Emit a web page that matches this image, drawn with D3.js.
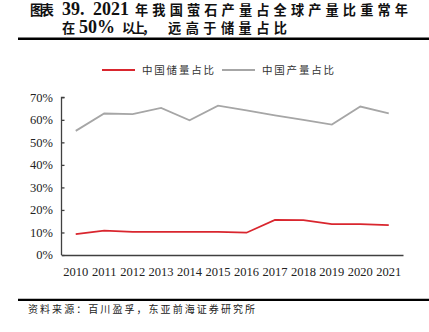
<!DOCTYPE html>
<html>
<head>
<meta charset="utf-8">
<script src="https://cdn.jsdelivr.net/npm/d3@7/dist/d3.min.js"></script>
<style>
  html, body { margin: 0; padding: 0; background: #fff; }
  svg { display: block; }
</style>
</head>
<body>
<svg id="chart" width="429" height="332"></svg>
<script>
// Fluorite: China's share of world reserves and of world production
const years = ["2010","2011","2012","2013","2014","2015","2016","2017","2018","2019","2020","2021"];
const reserveShare = [9.3, 10.8, 10.3, 10.3, 10.3, 10.3, 9.9, 15.6, 15.5, 13.7, 13.7, 13.3];
const productionShare = [55.1, 62.8, 62.5, 65.3, 59.8, 66.3, 64.2, 62.0, 60.0, 57.9, 65.9, 62.9];
const yTicks = [0, 10, 20, 30, 40, 50, 60, 70];
const seriesNames = ["中国储量占比", "中国产量占比"];
const seriesColors = ["#d9262e", "#a6a6a6"];

const svg = d3.select("#chart");
const serif = "'Liberation Serif', 'Times New Roman', serif";
const cjkFont = "'Noto Sans CJK SC', serif";

// Title: CJK runs are spread to their own width; Latin runs are set larger in serif
const titleRuns = [
  [{ t: "图表", x: 30, w: 24 }, { t: "39.", x: 62, latin: true }, { t: "2021", x: 93, latin: true },
   { t: "年我国萤石产量占全球产量比重常年", x: 135, w: 273 }],
  [{ t: "在", x: 62, w: 12 }, { t: "50%", x: 79, latin: true }, { t: "以上，", x: 122, w: 33 },
   { t: "远高于储量占比", x: 168, w: 119 }]
];
const titleY = [15.4, 33.2];
const title = svg.append("g").attr("font-weight", "bold").attr("fill", "#111");
titleRuns.forEach((runs, li) => {
  runs.forEach(r => {
    const t = title.append("text").attr("x", r.x).attr("y", titleY[li])
      .attr("font-family", r.latin ? serif : cjkFont)
      .attr("font-size", r.latin ? 18 : 13.2)
      .text(r.t);
    if (r.w) t.attr("textLength", r.w).attr("lengthAdjust", "spacing");
  });
});

svg.append("line").attr("x1", 18).attr("x2", 429).attr("y1", 38.8).attr("y2", 38.8)
  .attr("stroke", "#000").attr("stroke-width", 2.4);

// Plot area
const x = d3.scaleBand().domain(years).range([61.5, 403]);
const y = d3.scaleLinear().domain([0, 70]).range([255, 97.3]);

// Y axis with short inward ticks
const yAxis = svg.append("g").attr("transform", "translate(61.5,0)")
  .call(d3.axisRight(y).tickValues(yTicks).tickSize(3).tickFormat(""));
yAxis.select(".domain").attr("stroke", "#404040").attr("stroke-width", 1.3).attr("d", `M3,${y(70)}H0V${y(0)}`);
yAxis.selectAll(".tick line").attr("stroke", "#404040").attr("stroke-width", 1.3);

svg.append("g").selectAll("text").data(yTicks).join("text")
  .attr("x", 53).attr("y", d => y(d)).attr("dy", "0.35em")
  .attr("text-anchor", "end")
  .attr("font-family", serif).attr("font-size", 12.5).attr("fill", "#222")
  .text(d => d + "%");

// X axis
const xAxis = svg.append("g").attr("transform", `translate(0,${y(0)})`)
  .call(d3.axisBottom(x).tickSize(0).tickPadding(12));
xAxis.select(".domain").attr("stroke", "#404040").attr("stroke-width", 1.3);
xAxis.selectAll("text").attr("font-family", serif).attr("font-size", 12.5).attr("fill", "#222");

// Lines
const line = d3.line().x((d, i) => x(years[i]) + x.bandwidth() / 2).y(d => y(d));
[reserveShare, productionShare].forEach((vals, i) => {
  svg.append("path").datum(vals)
    .attr("fill", "none").attr("stroke", seriesColors[i]).attr("stroke-width", 1.8)
    .attr("d", line);
});

// Legend
const legendX = [102, 222];
const legend = svg.append("g");
seriesNames.forEach((name, i) => {
  legend.append("line").attr("x1", legendX[i]).attr("x2", legendX[i] + 33)
    .attr("y1", 70).attr("y2", 70)
    .attr("stroke", seriesColors[i]).attr("stroke-width", 1.8);
  legend.append("text").attr("x", legendX[i] + 40).attr("y", 74)
    .attr("font-family", cjkFont).attr("font-size", 10.5)
    .attr("textLength", 72).attr("lengthAdjust", "spacing")
    .attr("fill", "#333")
    .text(name);
});

// Source note
svg.append("line").attr("x1", 18).attr("x2", 429).attr("y1", 299.8).attr("y2", 299.8)
  .attr("stroke", "#000").attr("stroke-width", 2.2);
svg.append("text").attr("x", 28).attr("y", 313)
  .attr("font-family", cjkFont).attr("font-size", 10)
  .attr("textLength", 227).attr("lengthAdjust", "spacing")
  .attr("fill", "#222")
  .text("资料来源：百川盈孚，东亚前海证券研究所");
</script>
</body>
</html>
